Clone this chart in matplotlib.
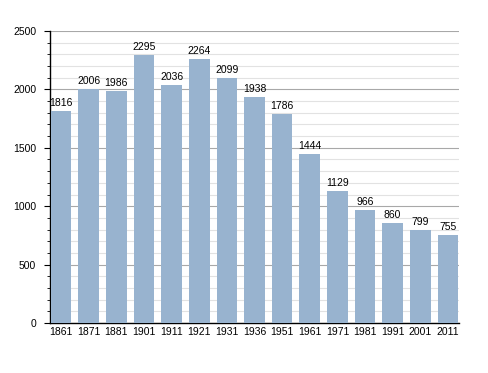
import matplotlib.pyplot as plt
from matplotlib.ticker import MultipleLocator

years = ["1861", "1871", "1881", "1901", "1911", "1921", "1931", "1936",
         "1951", "1961", "1971", "1981", "1991", "2001", "2011"]
population = [1816, 2006, 1986, 2295, 2036, 2264, 2099, 1938,
              1786, 1444, 1129, 966, 860, 799, 755]

plt.rcParams['font.family'] = ['Liberation Sans', 'DejaVu Sans']

fig = plt.figure(figsize=(4.88, 3.73), dpi=100)
ax = fig.add_axes([50 / 488, 50 / 373, 409 / 488, 292 / 373])

x = list(range(len(years)))
ax.bar(x, population, width=0.75, color='#98b3cf', zorder=3)

for xi, v in zip(x, population):
    ax.text(xi, v + 25, str(v), ha='center', va='bottom', fontsize=7.5, zorder=4)

ax.set_xlim(-0.4, len(years) - 0.6)
ax.set_ylim(0, 2500)
ax.set_xticks(x)
ax.set_xticklabels(years)
ax.yaxis.set_major_locator(MultipleLocator(500))
ax.yaxis.set_minor_locator(MultipleLocator(100))

ax.grid(axis='y', which='major', color='#a8a8a8', linewidth=0.8, zorder=0)
ax.grid(axis='y', which='minor', color='#e2e2e2', linewidth=0.8, zorder=0)

ax.tick_params(axis='x', length=0, labelsize=7.5, pad=3)
ax.tick_params(axis='y', which='major', length=4, labelsize=7.5, pad=6)
ax.tick_params(axis='y', which='minor', length=2)

for side in ['top', 'right']:
    ax.spines[side].set_visible(False)
ax.spines['left'].set_linewidth(1.0)
ax.spines['bottom'].set_linewidth(1.0)

fig.savefig('out.png', dpi=100)
